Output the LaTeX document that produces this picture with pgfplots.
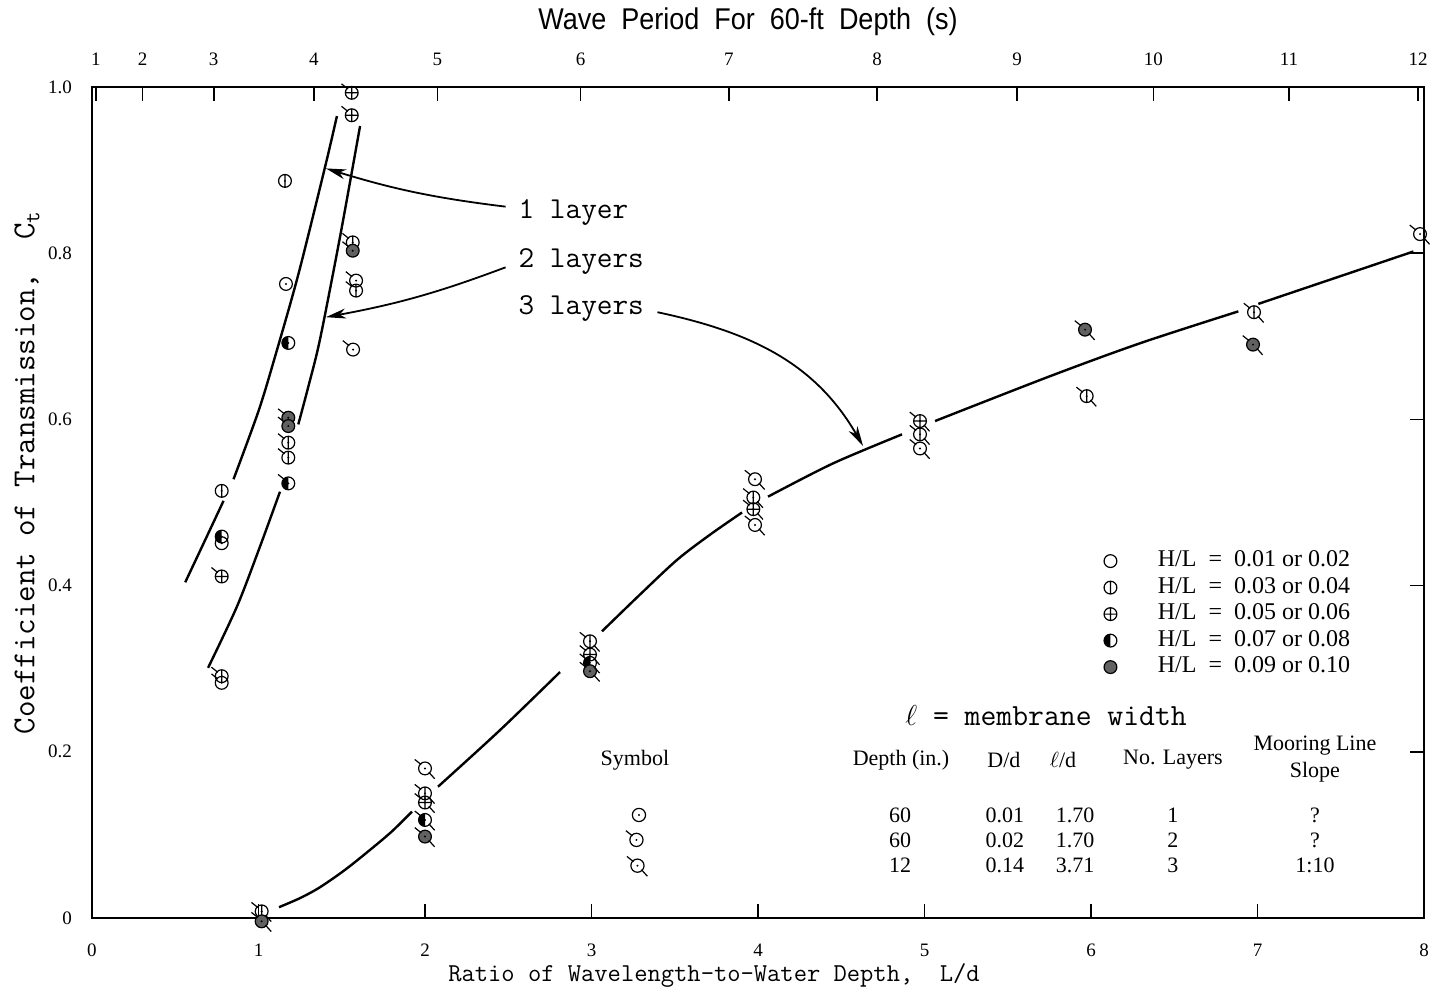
\documentclass[border=0pt]{standalone}
\usepackage{fontspec}
\setmainfont{Liberation Serif}
\newfontfamily\titlefont[FakeStretch=0.9]{Liberation Sans}
\usepackage{pgfplots}
\usepackage{pgfplotstable}
\pgfplotsset{compat=1.18}
\usetikzlibrary{arrows.meta}

% base symbols (wave steepness classes)
\pgfdeclareplotmark{mo}{\pgfpathcircle{\pgfpointorigin}{\pgfplotmarksize}\pgfusepathqstroke}
\pgfdeclareplotmark{mv}{%
  \pgfpathcircle{\pgfpointorigin}{\pgfplotmarksize}%
  \pgfpathmoveto{\pgfqpoint{0pt}{-\pgfplotmarksize}}\pgfpathlineto{\pgfqpoint{0pt}{\pgfplotmarksize}}%
  \pgfusepathqstroke}
\pgfdeclareplotmark{mp}{%
  \pgfpathcircle{\pgfpointorigin}{\pgfplotmarksize}%
  \pgfpathmoveto{\pgfqpoint{0pt}{-\pgfplotmarksize}}\pgfpathlineto{\pgfqpoint{0pt}{\pgfplotmarksize}}%
  \pgfpathmoveto{\pgfqpoint{-\pgfplotmarksize}{0pt}}\pgfpathlineto{\pgfqpoint{\pgfplotmarksize}{0pt}}%
  \pgfusepathqstroke}
\pgfdeclareplotmark{mh}{%
  \pgfpathmoveto{\pgfqpoint{0pt}{\pgfplotmarksize}}%
  \pgfpatharc{90}{270}{\pgfplotmarksize}\pgfpathclose
  \pgfsetfillcolor{black}\pgfusepathqfill
  \pgfpathcircle{\pgfpointorigin}{\pgfplotmarksize}\pgfusepathqstroke}
\pgfdeclareplotmark{mf}{%
  \pgfpathcircle{\pgfpointorigin}{\pgfplotmarksize}%
  \pgfsetfillcolor{black!62}\pgfusepathqfillstroke}
% layer tags
\pgfdeclareplotmark{tagone}{%
  \pgfsetfillcolor{black}\pgfpathcircle{\pgfpointorigin}{0.55pt}\pgfusepathqfill}
\pgfdeclareplotmark{tagtwo}{%
  \pgfsetfillcolor{black}\pgfpathcircle{\pgfpointorigin}{0.55pt}\pgfusepathqfill
  \pgfpathmoveto{\pgfqpoint{-0.6\pgfplotmarksize}{0.6\pgfplotmarksize}}%
  \pgfpathlineto{\pgfqpoint{-1.6\pgfplotmarksize}{1.4\pgfplotmarksize}}%
  \pgfusepathqstroke}
\pgfdeclareplotmark{tagthree}{%
  \pgfsetfillcolor{black}\pgfpathcircle{\pgfpointorigin}{0.55pt}\pgfusepathqfill
  \pgfpathmoveto{\pgfqpoint{-0.6\pgfplotmarksize}{0.6\pgfplotmarksize}}%
  \pgfpathlineto{\pgfqpoint{-1.6\pgfplotmarksize}{1.4\pgfplotmarksize}}%
  \pgfpathmoveto{\pgfqpoint{0.6\pgfplotmarksize}{-0.6\pgfplotmarksize}}%
  \pgfpathlineto{\pgfqpoint{1.5\pgfplotmarksize}{-1.6\pgfplotmarksize}}%
  \pgfusepathqstroke}

\newcommand\symb[1]{\tikz[baseline=-0.6ex,line width=0.6pt]{%
  \useasboundingbox (-4pt,-4pt) rectangle (4pt,4pt);
  \pgfplotmarksize=3.3pt\pgfuseplotmark{mo}\pgfuseplotmark{#1}}}

% x = L/d, y = Ct, t = H/L class, n = layers
\pgfplotstableread{
x y t n
1.159 0.887 v L1
1.165 0.763 o L1
1.179 0.692 h L1
0.779 0.514 v L1
0.779 0.459 h L1
0.779 0.451 o L1
1.560 0.993 p L2
1.560 0.966 p L2
1.566 0.813 v L2
1.566 0.803 f L2
1.586 0.767 o L2
1.586 0.755 v L2
1.568 0.684 o L2
1.179 0.602 f L2
1.179 0.592 f L2
1.179 0.572 v L2
1.179 0.554 v L2
1.179 0.523 h L2
0.779 0.411 p L2
0.779 0.291 v L2
0.779 0.283 o L2
1.019 0.008 v L3
1.019 -0.004 f L3
2.000 0.180 o L3
2.000 0.150 v L3
2.000 0.139 p L3
2.000 0.118 h L3
2.000 0.098 f L3
2.991 0.333 v L3
2.991 0.317 p L3
2.991 0.307 h L3
2.991 0.297 f L3
3.982 0.528 o L3
3.972 0.506 v L3
3.972 0.492 p L3
3.982 0.473 o L3
4.973 0.598 p L3
4.973 0.582 v L3
4.973 0.565 o L3
5.964 0.708 f L3
5.974 0.628 v L3
6.979 0.729 v L3
6.973 0.690 f L3
7.976 0.823 o L3
}\pts

\begin{document}
\begin{tikzpicture}
\pgfplotsset{
  frame/.style={width=666pt, height=415.5pt, scale only axis,
    xmin=0, xmax=8, ymin=0, ymax=1,
    tick align=inside, major tick length=7pt,
    tick style={line width=0.8pt, black},
    axis line style={line width=1pt},
    /pgf/number format/assume math mode=true,
    ticklabel style={font=\fontsize{9.5}{10}\selectfont}},
  curve/.style={forget plot, smooth, black, line width=1.2pt},
}
\begin{axis}[frame, name=main, clip=false,
  xtick={0,1,2,3,4,5,6,7,8}, xtick pos=left,
  ytick={0,0.2,0.4,0.6,0.8,1}, yticklabels={0,0.2,0.4,0.6,0.8,1.0},
  ytick pos=right, yticklabel pos=left,
  xticklabel style={yshift=-9.5pt},
  yticklabel style={xshift=-6.5pt},
  xlabel={\ttfamily\fontsize{12.9}{14}\selectfont Ratio of Wavelength-to-Water Depth,\ \ L/d},
  xlabel style={at={(rel axis cs:0.467,0)}, anchor=center, yshift=-28.5pt},
  ylabel={\ttfamily\fontsize{16}{18}\selectfont Coefficient of Transmission,\ \ C\textsubscript{t}},
  ylabel style={at={([xshift=-32.5pt]rel axis cs:0,0.536)}, anchor=center},
  legend style={at={(0.7595,0.445)}, anchor=north west, draw=none, fill=none,
    inner sep=0pt, font=\fontsize{12}{13}\selectfont, row sep=0.75pt,
    nodes={inner sep=0.5pt, text height=8.5pt, text depth=3pt},
    /tikz/every odd column/.append style={column sep=20pt}},
  legend cell align=left,
]
\addplot[scatter, only marks, black, mark size=3.2pt, line width=0.6pt,
  scatter src=explicit symbolic,
  scatter/classes={o={mark=mo}, v={mark=mv}, p={mark=mp}, h={mark=mh}, f={mark=mf}}]
  table[x=x, y=y, meta=t] {\pts};
\legend{{H/L\ \ =\ \ 0.01 or 0.02}, {H/L\ \ =\ \ 0.03 or 0.04}, {H/L\ \ =\ \ 0.05 or 0.06},
  {H/L\ \ =\ \ 0.07 or 0.08}, {H/L\ \ =\ \ 0.09 or 0.10}}
\addplot[scatter, only marks, forget plot, black, mark size=3.2pt, line width=0.6pt,
  scatter src=explicit symbolic,
  scatter/classes={L1={mark=tagone}, L2={mark=tagtwo}, L3={mark=tagthree}}]
  table[x=x, y=y, meta=n] {\pts};

% 1 layer
\addplot[curve] coordinates {(0.56,0.404) (0.68,0.455) (0.79,0.502)};
\addplot[curve] coordinates {(0.85,0.528) (1.0,0.61) (1.10,0.676) (1.24,0.775) (1.40,0.904) (1.471,0.965)};
% 2 layers
\addplot[curve] coordinates {(0.697,0.301) (0.871,0.375) (1.009,0.447) (1.129,0.513)};
\addplot[curve] coordinates {(1.239,0.594) (1.30,0.64) (1.369,0.696) (1.49,0.82) (1.610,0.953)};
% 3 layers
\addplot[curve] coordinates {(1.123,0.013) (1.25,0.024) (1.369,0.037) (1.52,0.058) (1.670,0.082) (1.80,0.104) (1.922,0.128)};
\addplot[curve] coordinates {(2.078,0.158) (2.45,0.226) (2.811,0.296)};
\addplot[curve] coordinates {(3.063,0.345) (3.29,0.389) (3.514,0.431) (3.71,0.461) (3.904,0.488)};
\addplot[curve] coordinates {(4.060,0.507) (4.45,0.547) (4.865,0.582)};
\addplot[curve] coordinates {(5.063,0.598) (5.754,0.652) (6.3,0.692) (6.885,0.730)};
\addplot[curve] coordinates {(7.005,0.739) (7.936,0.802)};

\tikzset{lab/.style={anchor=west, inner sep=0pt, font=\ttfamily\fontsize{15.2}{16}\selectfont},
  arr/.style={line width=0.9pt, -{Stealth[length=10pt, width=5pt, inset=3pt]}}}
\node[lab] at (axis cs:2.56,0.849) {1 layer};
\node[lab] at (axis cs:2.56,0.790) {2 layers};
\node[lab] at (axis cs:2.56,0.734) {3 layers};
\draw[arr] (axis cs:2.484,0.856) to[bend left=5] (axis cs:1.405,0.902);
\draw[arr] (axis cs:2.484,0.783) to[bend left=5] (axis cs:1.405,0.723);
\draw[arr] (axis cs:3.396,0.729) to[out=-12,in=120] (axis cs:4.631,0.568);

\node[font=\ttfamily\fontsize{15.4}{16}\selectfont] at (axis cs:5.730,0.243) {$\ell$ = membrane width};

\tikzset{tab/.style={font=\fontsize{11}{12}\selectfont, inner sep=0pt}}
\node[tab] at (axis cs:3.261,0.190) {Symbol};
\node[tab] at (axis cs:4.859,0.190) {Depth (in.)};
\node[tab] at (axis cs:5.477,0.190) {D/d};
\node[tab] at (axis cs:5.832,0.190) {$\ell$/d};
\node[tab] at (axis cs:6.492,0.190) {No. Layers};
\node[tab] at (axis cs:7.345,0.208) {Mooring Line};
\node[tab] at (axis cs:7.345,0.176) {Slope};
\node[tab] at (axis cs:3.285,0.124) {\symb{tagone}};
\node[tab] at (axis cs:3.270,0.094) {\symb{tagtwo}};
\node[tab] at (axis cs:3.276,0.063) {\symb{tagthree}};
\node[tab] at (axis cs:4.853,0.124) {60};
\node[tab] at (axis cs:4.853,0.094) {60};
\node[tab] at (axis cs:4.853,0.063) {12};
\node[tab] at (axis cs:5.483,0.124) {0.01};
\node[tab] at (axis cs:5.483,0.094) {0.02};
\node[tab] at (axis cs:5.483,0.063) {0.14};
\node[tab] at (axis cs:5.904,0.124) {1.70};
\node[tab] at (axis cs:5.904,0.094) {1.70};
\node[tab] at (axis cs:5.904,0.063) {3.71};
\node[tab] at (axis cs:6.492,0.124) {1};
\node[tab] at (axis cs:6.492,0.094) {2};
\node[tab] at (axis cs:6.492,0.063) {3};
\node[tab] at (axis cs:7.345,0.124) {?};
\node[tab] at (axis cs:7.345,0.094) {?};
\node[tab] at (axis cs:7.345,0.063) {1:10};
\end{axis}

% wave period scale along the top
\begin{axis}[frame, axis x line*=top, axis y line=none,
  xtick={0.023,0.304,0.731,1.332,2.075,2.935,3.825,4.715,5.556,6.375,7.189,7.964},
  xticklabels={1,2,3,4,5,6,7,8,9,10,11,12},
  xticklabel style={yshift=7pt},
  xlabel={\titlefont\fontsize{15}{16}\selectfont Wave\ \ Period\ \ For\ \ 60-ft\ \ Depth\ \ (s)},
  xlabel style={at={(rel axis cs:0.4925,1)}, anchor=center, yshift=32.5pt},
]
\end{axis}

\pgfresetboundingbox
\path[use as bounding box] ([shift={(-46pt,-36.5pt)}]main.south west)
  rectangle ([shift={(8.5pt,43.5pt)}]main.north east);
\end{tikzpicture}
\end{document}
